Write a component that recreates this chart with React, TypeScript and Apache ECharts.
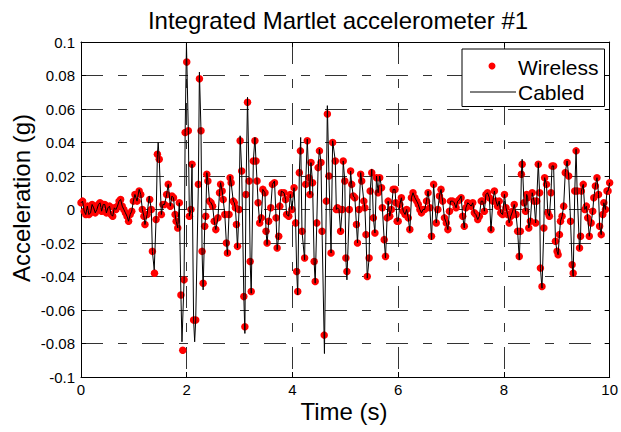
import React, { useEffect, useRef } from "react";
import * as echarts from "echarts";

// Axis ranges and tick spacing
const xMin = 0;
const xMax = 10;
const xStep = 2;
const yMin = -0.1;
const yMax = 0.1;
const yStep = 0.02;

// Wireless (Martlet) samples: [time (s), acceleration (g)]
const wireless: [number, number][] = [
  [0.0, 0.004], [0.03, 0.005], [0.06, -0.001], [0.09, -0.003], [0.12, 0.002], [0.15, -0.003],
  [0.18, -0.002], [0.21, 0.003], [0.24, 0.001], [0.27, -0.002], [0.3, 0.0], [0.33, 0.003],
  [0.36, 0.004], [0.39, -0.001], [0.42, 0.003], [0.45, 0.003], [0.48, -0.002], [0.51, 0.001],
  [0.54, 0.002], [0.57, -0.003], [0.6, -0.004], [0.63, 0.001], [0.66, 0.0], [0.69, 0.002],
  [0.72, 0.005], [0.75, 0.006], [0.78, 0.002], [0.81, 0.0], [0.84, -0.002], [0.87, -0.004],
  [0.9, -0.007], [0.93, -0.003], [0.96, -0.001], [0.99, 0.005], [1.02, 0.009], [1.06, 0.005],
  [1.1, 0.011], [1.13, 0.009], [1.16, 0.0], [1.19, -0.004], [1.21, -0.009], [1.25, -0.003],
  [1.3, 0.006], [1.33, 0.0], [1.35, -0.025], [1.39, -0.038], [1.42, -0.006], [1.445, 0.033],
  [1.48, 0.03], [1.52, -0.003], [1.55, 0.003], [1.58, 0.003], [1.62, 0.009], [1.65, 0.015],
  [1.69, 0.002], [1.72, 0.008], [1.75, 0.007], [1.78, -0.003], [1.8, -0.007], [1.83, -0.011],
  [1.86, 0.004], [1.89, -0.051], [1.925, -0.084], [1.95, -0.042], [1.97, 0.046], [2.0, 0.088],
  [2.03, 0.047], [2.05, -0.004], [2.08, 0.0], [2.1, 0.027], [2.13, -0.066], [2.17, -0.066],
  [2.22, 0.015], [2.24, 0.078], [2.27, 0.047], [2.29, -0.025], [2.31, -0.044], [2.34, -0.01],
  [2.36, -0.004], [2.38, 0.021], [2.4, 0.017], [2.43, 0.005], [2.46, 0.004], [2.49, 0.002],
  [2.52, -0.007], [2.55, -0.012], [2.59, -0.005], [2.62, 0.01], [2.64, 0.015], [2.67, 0.011],
  [2.69, 0.006], [2.72, -0.003], [2.75, -0.02], [2.77, -0.026], [2.8, -0.003], [2.82, 0.019],
  [2.84, 0.016], [2.88, 0.005], [2.9, 0.004], [2.92, 0.001], [2.94, -0.009], [2.96, -0.022],
  [2.99, 0.0], [3.01, 0.041], [3.04, 0.023], [3.08, -0.052], [3.1, -0.07], [3.12, 0.009],
  [3.15, 0.064], [3.18, 0.017], [3.2, -0.031], [3.22, -0.049], [3.26, 0.029], [3.29, 0.041],
  [3.31, 0.029], [3.33, 0.017], [3.35, 0.004], [3.38, -0.008], [3.41, -0.005], [3.44, 0.012],
  [3.48, 0.01], [3.5, -0.013], [3.52, -0.02], [3.55, -0.007], [3.59, 0.001], [3.62, 0.015],
  [3.66, 0.016], [3.69, -0.005], [3.71, -0.023], [3.74, -0.016], [3.76, 0.002], [3.79, 0.01],
  [3.84, 0.01], [3.87, 0.006], [3.89, -0.003], [3.93, -0.004], [3.96, 0.009], [3.99, 0.0],
  [4.03, 0.013], [4.06, -0.008], [4.08, -0.037], [4.1, -0.049], [4.13, 0.022], [4.15, 0.035],
  [4.18, -0.013], [4.23, -0.029], [4.25, 0.015], [4.28, 0.041], [4.31, 0.019], [4.33, 0.009],
  [4.35, 0.028], [4.38, 0.016], [4.41, -0.031], [4.43, -0.043], [4.46, -0.008], [4.485, 0.025],
  [4.51, 0.035], [4.54, 0.028], [4.56, -0.013], [4.6, -0.075], [4.64, 0.005], [4.66, 0.057],
  [4.69, 0.02], [4.73, -0.026], [4.76, 0.04], [4.81, 0.029], [4.83, 0.0], [4.85, 0.001],
  [4.88, 0.0], [4.91, -0.013], [4.94, 0.0], [4.96, 0.029], [4.99, 0.017], [5.01, -0.029],
  [5.03, -0.037], [5.075, 0.0], [5.1, 0.023], [5.12, 0.015], [5.15, 0.008], [5.18, 0.007],
  [5.21, -0.009], [5.23, -0.02], [5.26, 0.0], [5.29, 0.021], [5.31, 0.017], [5.35, 0.005],
  [5.37, 0.001], [5.39, -0.015], [5.415, -0.04], [5.45, -0.029], [5.47, 0.011], [5.5, 0.022],
  [5.53, -0.005], [5.56, -0.014], [5.59, 0.019], [5.62, 0.01], [5.65, 0.019], [5.685, 0.013],
  [5.7, 0.001], [5.735, -0.018], [5.76, -0.028], [5.79, -0.005], [5.81, 0.005], [5.84, -0.004],
  [5.87, 0.0], [5.905, 0.012], [5.94, 0.012], [5.955, 0.004], [5.98, -0.007], [6.0, -0.007],
  [6.03, 0.003], [6.06, 0.007], [6.095, -0.001], [6.13, -0.003], [6.16, 0.0], [6.19, -0.005],
  [6.22, -0.012], [6.25, 0.007], [6.28, 0.01], [6.315, 0.007], [6.35, 0.005], [6.38, 0.003],
  [6.41, 0.0], [6.44, -0.002], [6.47, 0.0], [6.5, 0.0], [6.535, 0.005], [6.565, 0.01],
  [6.6, 0.001], [6.63, -0.016], [6.67, 0.015], [6.72, -0.008], [6.75, 0.0], [6.78, 0.008],
  [6.81, 0.012], [6.84, 0.005], [6.875, -0.005], [6.91, -0.008], [6.94, -0.012], [6.97, -0.001],
  [6.99, 0.005], [7.03, 0.005], [7.06, 0.004], [7.095, 0.001], [7.125, 0.005], [7.16, 0.006],
  [7.19, 0.007], [7.22, -0.004], [7.25, -0.01], [7.28, 0.001], [7.315, 0.004], [7.35, 0.003],
  [7.38, 0.002], [7.41, 0.004], [7.44, -0.002], [7.47, -0.003], [7.505, -0.006], [7.535, -0.004],
  [7.57, 0.005], [7.6, 0.005], [7.63, -0.001], [7.66, 0.009], [7.69, 0.01], [7.725, 0.007],
  [7.755, -0.012], [7.79, 0.005], [7.82, 0.011], [7.85, 0.005], [7.88, 0.002], [7.91, 0.005],
  [7.94, -0.002], [7.975, -0.003], [8.01, 0.009], [8.04, 0.001], [8.07, -0.003], [8.1, -0.008],
  [8.13, -0.004], [8.165, -0.001], [8.195, 0.003], [8.23, -0.003], [8.26, -0.013], [8.29, -0.028],
  [8.31, -0.013], [8.33, 0.021], [8.345, 0.027], [8.38, 0.004], [8.41, -0.001], [8.43, 0.009],
  [8.45, 0.007], [8.47, -0.011], [8.5, -0.007], [8.535, 0.01], [8.57, 0.005], [8.6, -0.008],
  [8.62, 0.005], [8.65, 0.027], [8.675, 0.01], [8.69, -0.035], [8.72, -0.046], [8.755, -0.011],
  [8.77, 0.019], [8.805, 0.015], [8.83, -0.002], [8.86, -0.004], [8.89, 0.01], [8.91, 0.026],
  [8.94, 0.026], [8.975, -0.019], [9.005, -0.025], [9.025, -0.027], [9.05, -0.015], [9.07, -0.007],
  [9.1, -0.004], [9.13, 0.002], [9.16, 0.022], [9.195, 0.028], [9.225, 0.02], [9.26, -0.007],
  [9.29, -0.033], [9.31, -0.038], [9.34, 0.011], [9.365, 0.035], [9.385, 0.011], [9.43, -0.023],
  [9.45, -0.016], [9.465, 0.011], [9.5, 0.015], [9.53, 0.0], [9.56, 0.002], [9.585, -0.005],
  [9.615, -0.016], [9.65, -0.008], [9.68, -0.001], [9.7, 0.007], [9.73, 0.014], [9.76, 0.019],
  [9.79, 0.009], [9.81, -0.01], [9.84, -0.015], [9.87, -0.003], [9.89, 0.004], [9.92, 0.0],
  [9.95, 0.011], [9.97, 0.011], [10.0, 0.016],
];

// Cabled reference record: [time (s), acceleration (g)]
const cabled: [number, number][] = [
  [0.0, 0.004], [0.03, 0.005], [0.06, -0.001], [0.09, -0.003], [0.12, 0.002], [0.15, -0.003],
  [0.18, -0.002], [0.21, 0.003], [0.24, 0.001], [0.27, -0.002], [0.3, 0.0], [0.33, 0.003],
  [0.36, 0.004], [0.39, -0.001], [0.42, 0.003], [0.45, 0.003], [0.48, -0.002], [0.51, 0.001],
  [0.54, 0.002], [0.57, -0.003], [0.6, -0.004], [0.63, 0.001], [0.66, 0.0], [0.69, 0.002],
  [0.72, 0.005], [0.75, 0.006], [0.78, 0.002], [0.81, 0.0], [0.84, -0.002], [0.87, -0.004],
  [0.9, -0.007], [0.93, -0.003], [0.96, -0.001], [0.99, 0.005], [1.02, 0.009], [1.06, 0.005],
  [1.1, 0.012], [1.13, 0.009], [1.16, 0.0], [1.19, -0.004], [1.21, -0.009], [1.25, -0.003],
  [1.29, 0.008], [1.33, 0.0], [1.35, -0.025], [1.385, -0.036], [1.42, -0.006], [1.445, 0.033],
  [1.46, 0.04], [1.48, 0.03], [1.52, -0.003], [1.55, 0.003], [1.58, 0.003], [1.62, 0.009],
  [1.65, 0.015], [1.69, 0.002], [1.72, 0.008], [1.75, 0.007], [1.78, -0.003], [1.8, -0.007],
  [1.83, -0.011], [1.86, 0.004], [1.89, -0.051], [1.91, -0.079], [1.95, -0.042], [1.97, 0.046],
  [1.995, 0.099], [2.03, 0.047], [2.05, -0.004], [2.08, 0.0], [2.1, 0.027], [2.13, -0.066],
  [2.15, -0.079], [2.17, -0.066], [2.22, 0.015], [2.24, 0.082], [2.27, 0.047], [2.29, -0.025],
  [2.31, -0.048], [2.34, -0.01], [2.36, -0.004], [2.38, 0.022], [2.4, 0.017], [2.43, 0.005],
  [2.46, 0.004], [2.49, 0.002], [2.52, -0.007], [2.55, -0.012], [2.59, -0.005], [2.62, 0.01],
  [2.64, 0.016], [2.67, 0.011], [2.69, 0.006], [2.72, -0.003], [2.75, -0.02], [2.77, -0.027],
  [2.8, -0.003], [2.82, 0.02], [2.84, 0.016], [2.88, 0.005], [2.9, 0.004], [2.92, 0.001],
  [2.94, -0.009], [2.96, -0.023], [2.99, 0.0], [3.01, 0.044], [3.04, 0.023], [3.08, -0.052],
  [3.1, -0.074], [3.12, 0.009], [3.15, 0.067], [3.18, 0.017], [3.2, -0.031], [3.22, -0.05],
  [3.26, 0.029], [3.29, 0.043], [3.31, 0.029], [3.33, 0.017], [3.35, 0.004], [3.38, -0.008],
  [3.41, -0.005], [3.44, 0.012], [3.48, 0.01], [3.5, -0.013], [3.52, -0.021], [3.55, -0.007],
  [3.59, 0.001], [3.62, 0.015], [3.66, 0.017], [3.69, -0.005], [3.71, -0.024], [3.74, -0.016],
  [3.76, 0.002], [3.79, 0.011], [3.84, 0.01], [3.87, 0.006], [3.89, -0.003], [3.93, -0.004],
  [3.96, 0.009], [3.99, 0.0], [4.03, 0.013], [4.06, -0.008], [4.08, -0.037], [4.1, -0.051],
  [4.13, 0.022], [4.155, 0.043], [4.18, -0.013], [4.23, -0.03], [4.25, 0.015], [4.28, 0.042],
  [4.31, 0.019], [4.33, 0.009], [4.35, 0.028], [4.38, 0.016], [4.41, -0.031], [4.43, -0.044],
  [4.46, -0.008], [4.485, 0.025], [4.51, 0.036], [4.54, 0.028], [4.56, -0.013], [4.605, -0.086],
  [4.64, 0.005], [4.66, 0.062], [4.69, 0.02], [4.73, -0.026], [4.76, 0.041], [4.81, 0.029],
  [4.83, 0.0], [4.85, 0.001], [4.88, 0.0], [4.91, -0.013], [4.94, 0.0], [4.96, 0.029],
  [4.99, 0.017], [5.01, -0.029], [5.03, -0.042], [5.075, 0.0], [5.1, 0.023], [5.12, 0.015],
  [5.15, 0.008], [5.18, 0.007], [5.21, -0.009], [5.23, -0.02], [5.26, 0.0], [5.29, 0.022],
  [5.31, 0.017], [5.35, 0.005], [5.37, 0.001], [5.39, -0.015], [5.415, -0.041], [5.45, -0.029],
  [5.47, 0.011], [5.5, 0.024], [5.53, -0.005], [5.56, -0.014], [5.59, 0.02], [5.62, 0.01],
  [5.65, 0.02], [5.685, 0.013], [5.7, 0.001], [5.735, -0.018], [5.76, -0.029], [5.79, -0.005],
  [5.81, 0.005], [5.84, -0.004], [5.87, 0.0], [5.905, 0.012], [5.94, 0.012], [5.955, 0.004],
  [5.98, -0.007], [6.0, -0.007], [6.03, 0.003], [6.06, 0.007], [6.095, -0.001], [6.13, -0.003],
  [6.16, 0.0], [6.19, -0.005], [6.22, -0.013], [6.25, 0.007], [6.28, 0.01], [6.315, 0.007],
  [6.35, 0.005], [6.38, 0.003], [6.41, 0.0], [6.44, -0.002], [6.47, 0.0], [6.5, 0.0],
  [6.535, 0.005], [6.565, 0.011], [6.6, 0.001], [6.63, -0.018], [6.67, 0.015], [6.72, -0.008],
  [6.75, 0.0], [6.78, 0.008], [6.81, 0.012], [6.84, 0.005], [6.875, -0.005], [6.91, -0.008],
  [6.94, -0.012], [6.97, -0.001], [6.99, 0.005], [7.03, 0.005], [7.06, 0.004], [7.095, 0.001],
  [7.125, 0.005], [7.16, 0.006], [7.19, 0.008], [7.22, -0.004], [7.25, -0.011], [7.28, 0.001],
  [7.315, 0.004], [7.35, 0.003], [7.38, 0.002], [7.41, 0.004], [7.44, -0.002], [7.47, -0.003],
  [7.505, -0.006], [7.535, -0.004], [7.57, 0.005], [7.6, 0.005], [7.63, -0.001], [7.66, 0.009],
  [7.69, 0.01], [7.725, 0.007], [7.755, -0.013], [7.79, 0.005], [7.82, 0.011], [7.85, 0.005],
  [7.88, 0.002], [7.91, 0.005], [7.94, -0.002], [7.975, -0.003], [8.01, 0.009], [8.04, 0.001],
  [8.07, -0.003], [8.1, -0.008], [8.13, -0.004], [8.165, -0.001], [8.195, 0.003], [8.23, -0.003],
  [8.26, -0.013], [8.29, -0.03], [8.31, -0.013], [8.33, 0.021], [8.345, 0.03], [8.38, 0.004],
  [8.41, -0.001], [8.43, 0.009], [8.45, 0.007], [8.47, -0.011], [8.5, -0.007], [8.535, 0.01],
  [8.57, 0.005], [8.6, -0.008], [8.62, 0.005], [8.65, 0.028], [8.675, 0.01], [8.69, -0.035],
  [8.72, -0.047], [8.755, -0.011], [8.77, 0.019], [8.805, 0.015], [8.83, -0.002], [8.86, -0.004],
  [8.89, 0.01], [8.91, 0.026], [8.94, 0.026], [8.975, -0.019], [9.005, -0.025], [9.025, -0.027],
  [9.05, -0.015], [9.07, -0.007], [9.1, -0.004], [9.13, 0.002], [9.16, 0.022], [9.195, 0.029],
  [9.225, 0.02], [9.26, -0.007], [9.29, -0.033], [9.31, -0.04], [9.34, 0.011], [9.365, 0.036],
  [9.385, 0.011], [9.43, -0.024], [9.45, -0.016], [9.465, 0.011], [9.5, 0.015], [9.53, 0.0],
  [9.56, 0.002], [9.585, -0.005], [9.615, -0.016], [9.65, -0.008], [9.68, -0.001], [9.7, 0.007],
  [9.73, 0.014], [9.76, 0.019], [9.79, 0.009], [9.81, -0.01], [9.84, -0.015], [9.87, -0.003],
  [9.89, 0.004], [9.92, 0.0], [9.95, 0.011], [9.97, 0.011], [10.0, 0.016],
];

const legendLabels = ["Wireless", "Cabled"];
const titleText = "Integrated Martlet accelerometer #1";
const xLabel = "Time (s)";
const yLabel = "Acceleration (g)";

const FONT = "'Liberation Sans', Arial, Helvetica, sans-serif";
const GRID_DASH = [22, 15, 9, 15];

export default function App() {
  const ref = useRef<HTMLDivElement>(null);

  useEffect(() => {
    if (!ref.current) return;
    const chart = echarts.init(ref.current, null, { renderer: "svg" });

    const frameLine = { show: true, onZero: false, lineStyle: { color: "#000", width: 1 } };
    const innerTick = { show: true, inside: true, length: 5, lineStyle: { color: "#000", width: 1 } };
    const gridLine = {
      show: true,
      lineStyle: { color: "#333", width: 1, type: GRID_DASH },
    };

    chart.setOption({
      animation: false,
      backgroundColor: "#fff",
      grid: { left: 81, right: 10, top: 42, bottom: 55, containLabel: false },
      xAxis: [
        {
          type: "value",
          min: xMin,
          max: xMax,
          interval: xStep,
          position: "bottom",
          axisLine: frameLine,
          axisTick: innerTick,
          splitLine: gridLine,
          axisLabel: { color: "#000", fontSize: 15, fontFamily: FONT, margin: 5 },
        },
        {
          type: "value",
          min: xMin,
          max: xMax,
          interval: xStep,
          position: "top",
          axisLine: frameLine,
          axisTick: innerTick,
          splitLine: { show: false },
          axisLabel: { show: false },
        },
      ],
      yAxis: [
        {
          type: "value",
          min: yMin,
          max: yMax,
          interval: yStep,
          position: "left",
          axisLine: frameLine,
          axisTick: innerTick,
          splitLine: gridLine,
          axisLabel: {
            color: "#000",
            fontSize: 15,
            fontFamily: FONT,
            margin: 6,
            formatter: (v: number) => String(parseFloat(v.toFixed(2))),
          },
        },
        {
          type: "value",
          min: yMin,
          max: yMax,
          interval: yStep,
          position: "right",
          axisLine: frameLine,
          axisTick: innerTick,
          splitLine: { show: false },
          axisLabel: { show: false },
        },
      ],
      series: [
        {
          name: legendLabels[0],
          type: "scatter",
          data: wireless,
          symbol: "circle",
          symbolSize: 7.5,
          itemStyle: { color: "#ff0000", opacity: 1 },
          z: 2,
          silent: true,
        },
        {
          name: legendLabels[1],
          type: "line",
          data: cabled,
          showSymbol: false,
          symbol: "none",
          lineStyle: { color: "#000", width: 1 },
          z: 3,
          silent: true,
        },
      ],
      graphic: [
        {
          type: "text",
          x: 338,
          y: 20,
          z: 100,
          style: {
            text: titleText,
            fill: "#000",
            font: `24px ${FONT}`,
            align: "center",
            verticalAlign: "middle",
          },
        },
        {
          type: "text",
          x: 344,
          y: 411,
          z: 100,
          style: {
            text: xLabel,
            fill: "#000",
            font: `24px ${FONT}`,
            align: "center",
            verticalAlign: "middle",
          },
        },
        {
          type: "text",
          x: 21,
          y: 198,
          rotation: Math.PI / 2,
          z: 100,
          style: {
            text: yLabel,
            fill: "#000",
            font: `24px ${FONT}`,
            align: "center",
            verticalAlign: "middle",
          },
        },
        {
          type: "rect",
          z: 100,
          shape: { x: 462, y: 49, width: 142.5, height: 57.5 },
          style: { fill: "#fff", stroke: "#000", lineWidth: 1 },
        },
        {
          type: "circle",
          z: 101,
          shape: { cx: 492, cy: 66, r: 3.5 },
          style: { fill: "#ff0000" },
        },
        {
          type: "line",
          z: 101,
          shape: { x1: 470, y1: 92, x2: 516, y2: 92 },
          style: { stroke: "#000", lineWidth: 1 },
        },
        {
          type: "text",
          x: 518,
          y: 67,
          z: 101,
          style: {
            text: legendLabels[0],
            fill: "#000",
            font: `21px ${FONT}`,
            align: "left",
            verticalAlign: "middle",
          },
        },
        {
          type: "text",
          x: 518,
          y: 92,
          z: 101,
          style: {
            text: legendLabels[1],
            fill: "#000",
            font: `21px ${FONT}`,
            align: "left",
            verticalAlign: "middle",
          },
        },
      ],
    });

    return () => chart.dispose();
  }, []);

  return (
    <div
      ref={ref}
      style={{ position: "absolute", left: 0, top: 0, width: 621, height: 432 }}
    />
  );
}
